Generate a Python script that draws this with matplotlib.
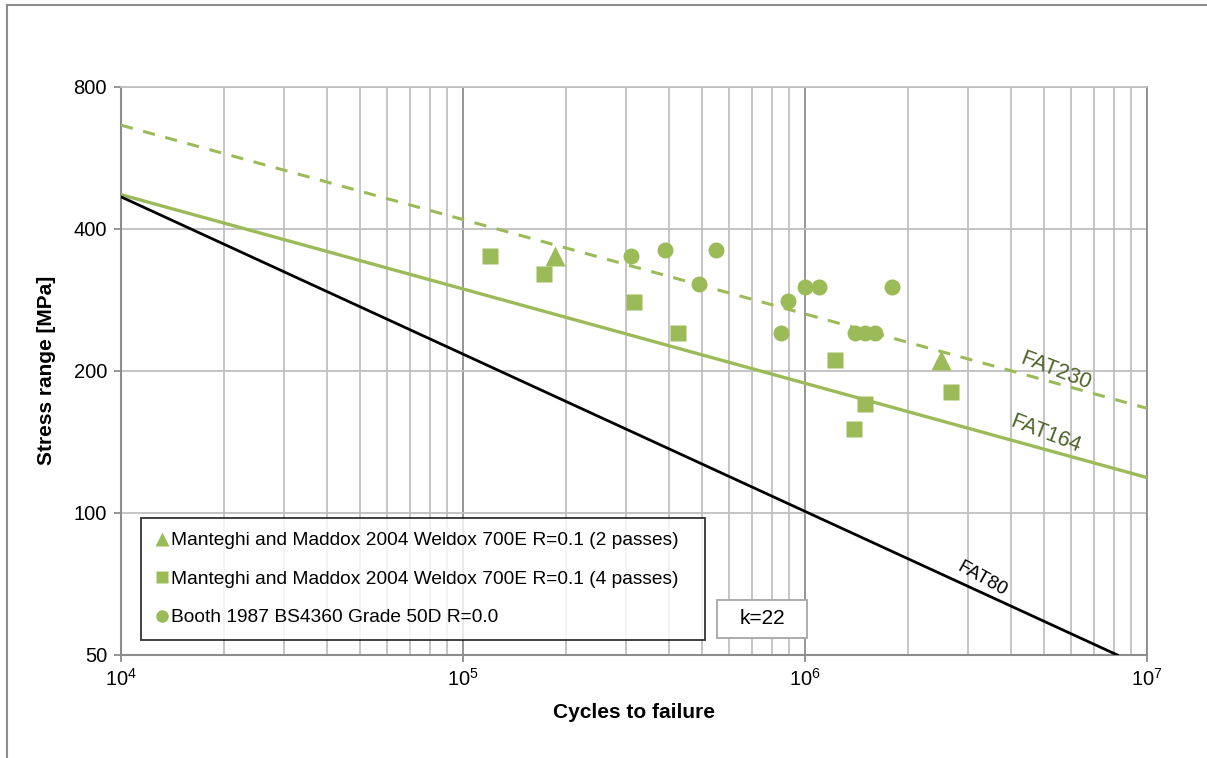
import matplotlib
matplotlib.use("Agg")
import matplotlib.pyplot as plt
from matplotlib.lines import Line2D
from matplotlib.patches import Rectangle
from matplotlib.ticker import FixedLocator, FixedFormatter, NullLocator, NullFormatter

plt.rcParams['font.family'] = ['Liberation Sans', 'DejaVu Sans']
plt.rcParams['mathtext.fontset'] = 'custom'
plt.rcParams['mathtext.rm'] = 'Liberation Sans'
plt.rcParams['mathtext.default'] = 'regular'

# ---- data ----
tri_N = [1.863e5, 2.494e6]
tri_S = [351, 211]

sq_N = [1.196e5, 1.721e5, 3.155e5, 4.246e5, 1.221e6, 1.494e6, 1.394e6, 2.681e6]
sq_S = [350.5, 320.7, 280.3, 241, 211, 170.6, 150.6, 180.6]

ci_N = [3.094e5, 3.90e5, 5.50e5, 4.906e5, 9.99e5, 1.098e6, 1.801e6,
        8.89e5, 8.50e5, 1.397e6, 1.501e6, 1.606e6]
ci_S = [351, 360.5, 360.5, 305.6, 300.8, 300.8, 300.8,
        281, 241, 241, 241, 241]

fat230_N = [1e4, 1e7]
fat230_S = [664, 166.7]
fat164_N = [1e4, 1e7]
fat164_S = [473, 118.9]
fat80_N = [1e4, 8.19e6]
fat80_S = [468, 50]

x_ticks = [1e4, 1e5, 1e6, 1e7]
x_labels = ['$10^{4}$', '$10^{5}$', '$10^{6}$', '$10^{7}$']
y_ticks = [50, 100, 200, 400, 800]
y_labels = ['50', '100', '200', '400', '800']

legend_labels = ['Manteghi and Maddox 2004 Weldox 700E R=0.1 (2 passes)',
                 'Manteghi and Maddox 2004 Weldox 700E R=0.1 (4 passes)',
                 'Booth 1987 BS4360 Grade 50D R=0.0']

green = '#9BBB59'
dark_green = '#4F6228'

W, H = 1207, 758
fig = plt.figure(figsize=(W / 100, H / 100), dpi=100)
ax = fig.add_axes([121 / W, 1 - 655 / H, (1147 - 121) / W, (655 - 87) / H])

ax.set_xscale('log')
ax.set_yscale('log')
ax.set_xlim(1e4, 1e7)
ax.set_ylim(50, 800)

# grid
minor_x = [m * 10 ** e for e in (4, 5, 6) for m in range(2, 10)]
for xv in minor_x:
    ax.axvline(xv, color='#C0C0C0', lw=1.3, zorder=0)
for xv in x_ticks[1:]:
    ax.axvline(xv, color='#8C8C8C', lw=1.3, zorder=0)
for yv in y_ticks[1:]:
    ax.axhline(yv, color='#BFBFBF', lw=1.3, zorder=0)

ax.xaxis.set_major_locator(FixedLocator(x_ticks))
ax.xaxis.set_major_formatter(FixedFormatter(x_labels))
ax.xaxis.set_minor_locator(NullLocator())
ax.xaxis.set_minor_formatter(NullFormatter())
ax.yaxis.set_major_locator(FixedLocator(y_ticks))
ax.yaxis.set_major_formatter(FixedFormatter(y_labels))
ax.yaxis.set_minor_locator(NullLocator())
ax.yaxis.set_minor_formatter(NullFormatter())
ax.tick_params(axis='both', which='major', length=5, width=1.3, color='#8C8C8C',
               labelsize=14.5, direction='out')
ax.tick_params(axis='x', pad=4)
ax.tick_params(axis='y', pad=5)

for side in ['left', 'bottom']:
    ax.spines[side].set_color('#8C8C8C')
    ax.spines[side].set_linewidth(1.5)
ax.spines['top'].set_color('#BFBFBF')
ax.spines['top'].set_linewidth(1.3)
ax.spines['right'].set_color('#8C8C8C')
ax.spines['right'].set_linewidth(1.3)

# lines
ax.plot(fat230_N, fat230_S, color=green, lw=2.2, ls=(0, (4, 3.5)), zorder=3)
ax.plot(fat164_N, fat164_S, color=green, lw=2.4, zorder=3)
ax.plot(fat80_N, fat80_S, color='black', lw=2.0, zorder=3)

# points
ax.plot(tri_N, tri_S, ls='none', marker='^', ms=14, color=green, mec='none', zorder=4)
ax.plot(sq_N, sq_S, ls='none', marker='s', ms=11, color=green, mec='none', zorder=4)
ax.plot(ci_N, ci_S, ls='none', marker='o', ms=11.5, color=green, mec='none', zorder=4)

# line labels
ax.text(5.4e6, 200, 'FAT230', color=dark_green, fontsize=15.5, rotation=-21,
        ha='center', va='center')
ax.text(5.05e6, 147, 'FAT164', color=dark_green, fontsize=15.5, rotation=-21,
        ha='center', va='center')
ax.text(3.3e6, 72.5, 'FAT80', color='black', fontsize=13.5, rotation=-29,
        ha='center', va='center')

# legend
handles = [Line2D([], [], ls='none', marker='^', ms=9.5, color=green, mec='none'),
           Line2D([], [], ls='none', marker='s', ms=9, color=green, mec='none'),
           Line2D([], [], ls='none', marker='o', ms=9, color=green, mec='none')]
leg = ax.legend(handles, legend_labels, loc='upper left',
                bbox_to_anchor=(20 / 1026, 0.0317, 564 / 1026, 0.2095),
                mode='expand', fontsize=13.8, frameon=True, fancybox=False,
                handlelength=0.8, handletextpad=0.05, labelspacing=1.1,
                borderpad=0.72, borderaxespad=0)
leg.get_frame().set_edgecolor('black')
leg.get_frame().set_linewidth(1.3)
leg.set_zorder(5)

# k=22 box
ax.add_patch(Rectangle(((717 - 121) / 1026, (655 - 638) / 568), 90 / 1026, 38 / 568,
                       transform=ax.transAxes, fc='white', ec='#A6A6A6', lw=1.3,
                       zorder=6))
ax.text((762 - 121) / 1026, (655 - 619) / 568, 'k=22', transform=ax.transAxes,
        fontsize=15, ha='center', va='center', zorder=7)

# axis labels
fig.text(47 / W, 1 - 370 / H, 'Stress range [MPa]', rotation=90, fontsize=15,
         fontweight='bold', ha='center', va='center')
fig.text(634 / W, 1 - 712 / H, 'Cycles to failure', fontsize=15,
         fontweight='bold', ha='center', va='center')

# outer frame (top and left)
fig.add_artist(Line2D([7 / W, 7 / W], [0, 1 - 5 / H], color='#8C8C8C', lw=1.5,
                      transform=fig.transFigure))
fig.add_artist(Line2D([7 / W, 1], [1 - 5 / H, 1 - 5 / H], color='#8C8C8C', lw=1.5,
                      transform=fig.transFigure))

fig.savefig('out.png', dpi=100)
